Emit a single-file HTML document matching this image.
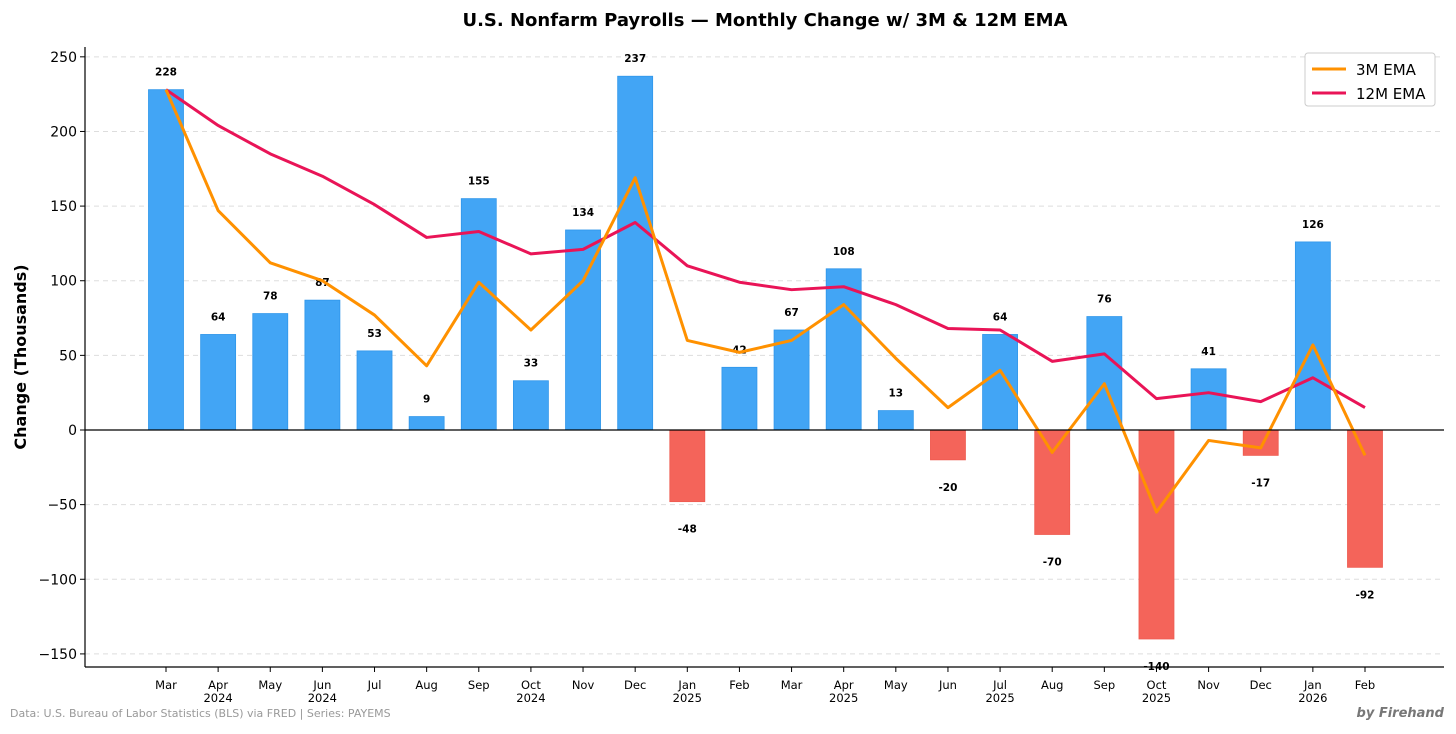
<!DOCTYPE html>
<html><head><meta charset="utf-8"><style>
body{margin:0;background:#fff;font-family:"Liberation Sans","DejaVu Sans",sans-serif}
svg text{font-family:"DejaVu Sans","Liberation Sans",sans-serif}
</style></head><body>
<svg id="chart" width="1456" height="729" viewBox="0 0 1456 729" xmlns="http://www.w3.org/2000/svg">
<text x="765" y="26" text-anchor="middle" font-size="18" font-weight="bold">U.S. Nonfarm Payrolls — Monthly Change w/ 3M &amp; 12M EMA</text>
<text transform="translate(26,357) rotate(-90)" text-anchor="middle" font-size="16" font-weight="bold">Change (Thousands)</text>
<g id="grid"></g><g id="bars"></g><g id="lines"></g><g id="axes"></g>
<g>
<rect x="1305" y="53" width="130" height="53" rx="3" fill="#fff" stroke="#ccc"/>
<line x1="1312" y1="69" x2="1346" y2="69" stroke="#ff9100" stroke-width="3"/>
<text x="1356" y="75" font-size="15">3M EMA</text>
<line x1="1312" y1="93" x2="1346" y2="93" stroke="#e91457" stroke-width="3"/>
<text x="1356" y="99" font-size="15">12M EMA</text>
</g>
<text x="10" y="717" font-size="11" fill="#999">Data: U.S. Bureau of Labor Statistics (BLS) via FRED | Series: PAYEMS</text>
<text x="1444" y="717" text-anchor="end" font-size="13" font-style="italic" font-weight="bold" fill="#777">by Firehand</text>
</svg>
<script>
const months=["Mar","Apr","May","Jun","Jul","Aug","Sep","Oct","Nov","Dec","Jan","Feb","Mar","Apr","May","Jun","Jul","Aug","Sep","Oct","Nov","Dec","Jan","Feb"];
const years=["","2024","","2024","","","","2024","","","2025","","","2025","","","2025","","","2025","","","2026",""];
const changes=[228,64,78,87,53,9,155,33,134,237,-48,42,67,108,13,-20,64,-70,76,-140,41,-17,126,-92];
const ema3=[228,147,112,100,77,43,99,67,100,169,60,52,60,84,48,15,40,-15,31,-55,-7,-12,57,-17];
const ema12=[228,204,185,170,151,129,133,118,121,139,110,99,94,96,84,68,67,46,51,21,25,19,35,15];
const yTicks=[-150,-100,-50,0,50,100,150,200,250];
const NS="http://www.w3.org/2000/svg";
const L=85,R=1444,T=47,B=667;
const y=v=>430-v*1.4927;
const x=i=>166+i*52.13;
function mk(tag,attrs,parent,txt){const e=document.createElementNS(NS,tag);for(const k in attrs)e.setAttribute(k,attrs[k]);if(txt!==undefined)e.textContent=txt;document.getElementById(parent).appendChild(e);return e;}
yTicks.forEach(t=>{
 const g=mk("line",{x1:L,x2:R,y1:y(t),y2:y(t),stroke:"#ddd","stroke-dasharray":"5,4"},"grid");
 
 
 const tx=mk("text",{x:L-8,y:y(t)+5,"text-anchor":"end","font-size":14},"axes",t<0?"\u2212"+(-t):t);
 
 
 mk("line",{x1:L-5,x2:L,y1:y(t),y2:y(t),stroke:"#000"},"axes");
});
changes.forEach((v,i)=>{
 const top=Math.min(y(v),y(0)),h=Math.abs(y(v)-y(0));
 const b=mk("rect",{x:x(i)-17.5,y:top,width:35,height:h,fill:v>=0?"#42a5f5":"#f4645a",stroke:v>=0?"#2f96ea":"#ee5a4f","stroke-width":0.8},"bars");
 
 
 const ly=v>=0?y(v)-18:y(v)+27;
 const t=mk("text",{x:x(i),y:ly+4,"text-anchor":"middle","font-size":10.5,"font-weight":"bold"},"bars",v);
 
 
 mk("line",{x1:x(i),x2:x(i),y1:B,y2:B+5,stroke:"#000"},"axes");
 const m=mk("text",{x:x(i),y:689,"text-anchor":"middle","font-size":11.5},"axes",months[i]);
 
 
 if(years[i]){const yy=mk("text",{x:x(i),y:702,"text-anchor":"middle","font-size":11.5},"axes",years[i]);
 
 }
});
[[ema12,"#e91457","ema12-line"],[ema3,"#ff9100","ema3-line"]].forEach(([s,c,n])=>{
 const p=mk("polyline",{points:s.map((v,i)=>x(i)+","+y(v)).join(" "),fill:"none",stroke:c,"stroke-width":3,"stroke-linejoin":"round"},"lines");
 
 
});
const z=mk("line",{x1:L,x2:R,y1:y(0),y2:y(0),stroke:"#000","stroke-width":1.3},"axes");


mk("line",{x1:L,x2:L,y1:T,y2:B,stroke:"#000","stroke-width":1.2},"axes");
mk("line",{x1:L,x2:R,y1:B,y2:B,stroke:"#000","stroke-width":1.2},"axes");
</script>
</body></html>
